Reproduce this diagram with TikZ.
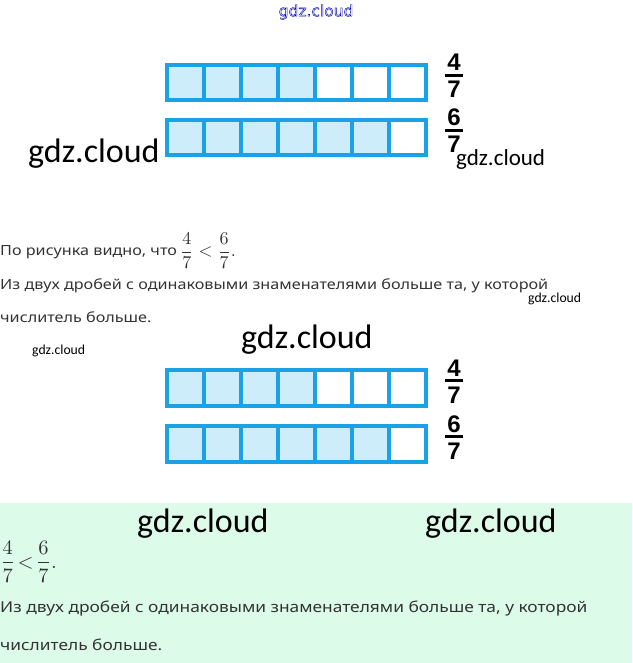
\documentclass[tikz,border=0pt]{standalone}
\usepackage{fontspec}
\usepackage{amsmath}
\usepackage{graphicx}
\setmainfont{Noto Sans}[FakeStretch=1.156]
\newfontfamily\wmfont{Carlito}
\newfontfamily\topwm{DejaVu Sans}
\newfontfamily\digfont{Liberation Sans}
\definecolor{cellblue}{HTML}{1BA1E6}
\definecolor{cellfill}{HTML}{CDEDFB}
\definecolor{mint}{HTML}{DCFCE9}
\definecolor{txt}{HTML}{333333}
\tikzset{
  cellbox/.style={draw=cellblue, line width=3.6pt, line join=miter},
  dig/.style={inner sep=0pt, anchor=base, font=\fontsize{24}{24}\digfont\bfseries\selectfont},
  fbar/.style={line width=2.2pt},
  body/.style={inner sep=0pt, anchor=base west, text=txt, font=\fontsize{14}{18}\selectfont},
  bodyb/.style={inner sep=0pt, anchor=base west, text=txt, font=\fontsize{15}{18}\selectfont},
  wmbig/.style={inner sep=0pt, anchor=base west, font=\fontsize{34}{34}\wmfont\selectfont},
  wmmid/.style={inner sep=0pt, anchor=base west, font=\fontsize{23}{23}\wmfont\selectfont},
  wmsmall/.style={inner sep=0pt, anchor=base west, font=\fontsize{13.7}{14}\wmfont\selectfont},
  mathfr/.style={inner sep=0pt, anchor=base west, text=txt, font=\fontsize{10}{12}\selectfont},
}
\newcommand\fracsent{\scalebox{1.8}{$\dfrac{4}{7}<\dfrac{6}{7}.$}}
\newcommand\fracsentb{\scalebox{2.05}{$\thickmuskip=2mu\dfrac{4}{7}<\dfrac{6}{7}.$}}
\newcommand\cellrow[3]{%
  \foreach \i in {0,...,6}{%
    \pgfmathsetmacro\xa{167+37*\i}\pgfmathsetmacro\xb{167+37*(\i+1)}%
    \ifnum\i<#2\relax
      \draw[cellbox, fill=cellfill] (\xa,#1) rectangle (\xb,#3);
    \else
      \draw[cellbox, fill=white] (\xa,#1) rectangle (\xb,#3);
    \fi}}
\newcommand\fracmark[4]{% name, top y, num, den
  \node[dig] (#1n) at (454,#2+8) {#3};
  \draw[fbar] (445,#2+12.5) coordinate (#1l) -- (463,#2+12.5) coordinate (#1r);
  \node[dig] (#1d) at (454,#2+35) {#4};}
\begin{document}
\begin{tikzpicture}[x=1pt,y=-1pt]
\useasboundingbox (0,0) rectangle (632,663);
\fill[white] (0,0) rectangle (632,663);
\fill[mint] (0,503) rectangle (632,663);
% top watermark (outlined text)
\node[inner sep=0pt, text=blue!70!black, font=\fontsize{15.5}{15}\topwm\selectfont] (wtop) at (316,12) {\special{pdf:literal direct 1 Tr 0.45 w}gdz.cloud\special{pdf:literal direct 0 Tr}};
% first picture
\cellrow{65}{4}{100}
\cellrow{120}{6}{155}
\fracmark{fa}{63}{4}{7}
\fracmark{fb}{118}{6}{7}
\node[wmbig] (w1) at (28,163) {gdz.cloud};
\node[wmmid] (w2) at (456,165) {gdz.cloud};
% text block 1
\node[body] (t1a) at (0,255) {По рисунка видно, что};
\node[mathfr] (t1b) at (180,256.5) {\fracsent};
\node[body] (t2) at (0,289.5) {Из двух дробей с одинаковыми знаменателями больше та, у которой};
\node[body] (t3) at (0,322) {числитель больше.};
\node[wmsmall] (w3) at (528,302) {gdz.cloud};
\node[wmbig] (w4) at (241,348) {gdz.cloud};
\node[wmsmall] (w5) at (32,354) {gdz.cloud};
% second picture
\cellrow{370}{4}{406}
\cellrow{426}{6}{462}
\fracmark{fc}{368}{4}{7}
\fracmark{fd}{424}{6}{7}
% green block
\node[wmbig] (w6) at (137,532) {gdz.cloud};
\node[wmbig] (w7) at (425,532) {gdz.cloud};
\node[mathfr] (t4) at (0,568) {\fracsentb};
\node[bodyb] (t5) at (0,612.5) {Из двух дробей с одинаковыми знаменателями больше та, у которой};
\node[bodyb] (t6) at (0,650) {числитель больше.};
\end{tikzpicture}
\end{document}
